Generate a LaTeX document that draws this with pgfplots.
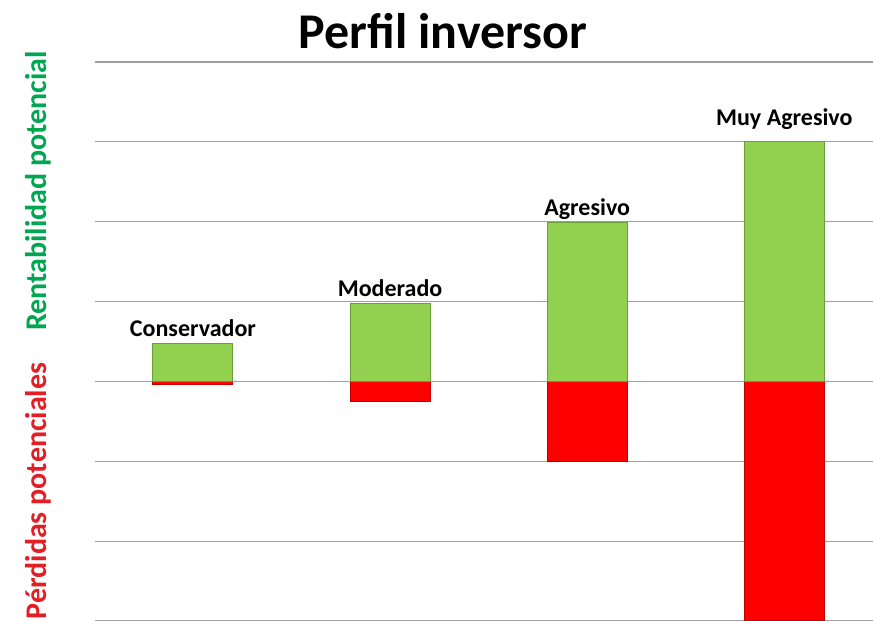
\documentclass[border=0pt]{standalone}
\usepackage{pgfplots}
\pgfplotsset{compat=1.18}
\usepackage{fontspec}
\setmainfont{Carlito}
\definecolor{bargreen}{HTML}{92D050}
\definecolor{barred}{HTML}{FF0000}
\definecolor{labgreen}{HTML}{00A650}
\definecolor{labred}{HTML}{E31E24}
\begin{document}
\begin{tikzpicture}[x=0.5pt,y=0.5pt]
\useasboundingbox (0,0) rectangle (873,621);
\begin{axis}[
  at={(47.5pt,0pt)}, anchor=south west,
  scale only axis, width=389pt, height=279.5pt,
  xmin=-0.497, xmax=3.45, ymin=-3, ymax=4,
  axis line style={draw=none},
  tick style={draw=none},
  xtick=\empty,
  ytick={-3,-2,-1,0,1,2,3,4},
  yticklabels={},
  ymajorgrids,
  grid style={gray!75, line width=0.6pt},
  ybar, bar width=40pt, bar shift=0pt,
  clip=false,
]
\addplot[fill=barred, draw=barred!75!black, line width=0.5pt]
  coordinates {(0,-0.04) (1,-0.25) (2,-1) (3,-3)};
\addplot[fill=bargreen, draw=bargreen!75!black, line width=0.5pt,
  point meta=explicit symbolic,
  nodes near coords,
  nodes near coords style={font=\bfseries\fontsize{12}{14}\selectfont, anchor=base, yshift=3.5pt, text=black}]
  coordinates {(0,0.47) [Conservador] (1,0.97) [Moderado] (2,1.99) [Agresivo] (3,3) []};
\addplot[draw=none, fill=none,
  point meta=explicit symbolic,
  nodes near coords,
  nodes near coords style={font=\bfseries\fontsize{12}{14}\selectfont, anchor=base, yshift=8pt, text=black}]
  coordinates {(3,3) [Muy Agresivo]};
\end{axis}
\node[font=\bfseries\fontsize{25}{30}\selectfont, anchor=base] at (443,572) {Perfil inversor};
\node[rotate=90, font=\bfseries\fontsize{15}{18}\selectfont, text=labgreen] at (38,430) {Rentabilidad potencial};
\node[rotate=90, font=\bfseries\fontsize{15}{18}\selectfont, text=labred] at (38,130) {Pérdidas potenciales};
\end{tikzpicture}
\end{document}
